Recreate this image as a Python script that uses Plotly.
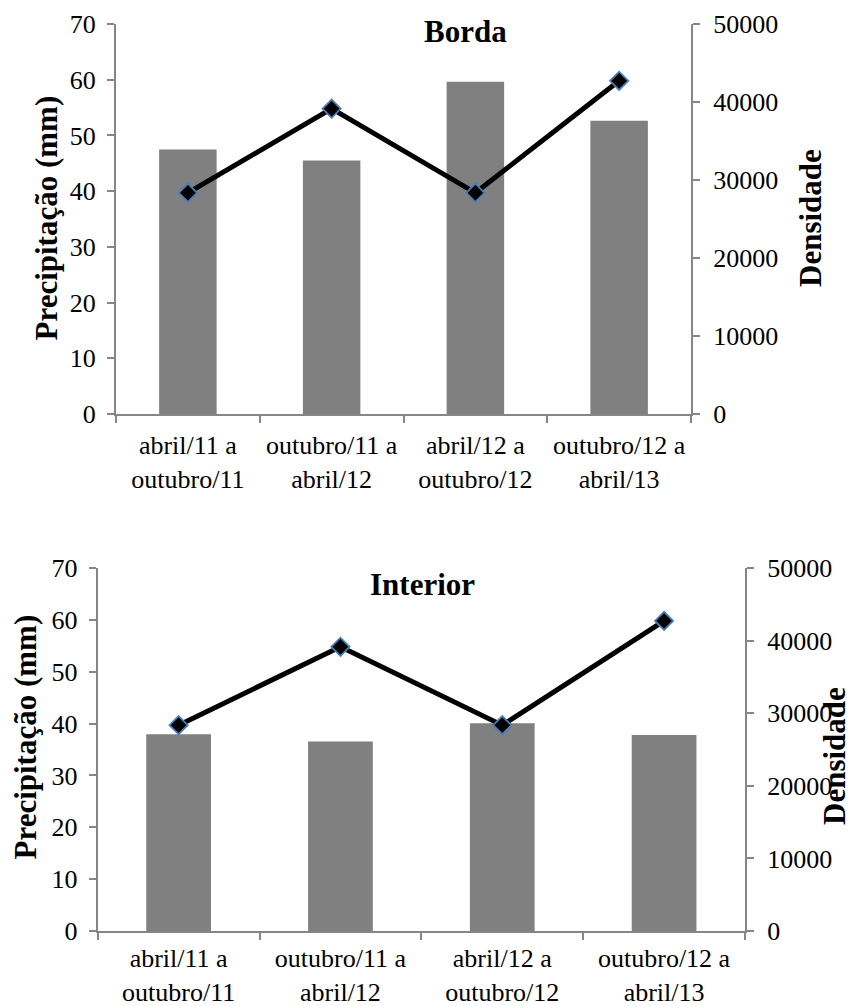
import plotly.graph_objects as go

# ---- data ----
categorias = ["abril/11 a<br>outubro/11", "outubro/11 a<br>abril/12",
              "abril/12 a<br>outubro/12", "outubro/12 a<br>abril/13"]
precipitacao = [39.7, 54.8, 39.7, 59.8]
densidade_borda = [33900, 32500, 42600, 37600]
densidade_interior = [27100, 26100, 28600, 27000]
titulos = ["Borda", "Interior"]
titulo_y_esq = "Precipitação (mm)"
titulo_y_dir = "Densidade"

W, H = 852, 1006
FONT = "Liberation Serif, Times New Roman, serif"
AXC = "#868686"
BAR = "#808080"

def px(x): return x / W
def py(y): return 1 - y / H

fig = go.Figure()

line_style = dict(color="black", width=5)
marker_style = dict(symbol="diamond", size=14, color="black",
                    line=dict(color="#4a7ebb", width=1.8))

# top panel: bars on y (right), line on y2 (left, overlay)
fig.add_trace(go.Bar(x=categorias, y=densidade_borda, marker=dict(color=BAR, line=dict(width=0)),
                     width=0.4, xaxis="x", yaxis="y", showlegend=False))
fig.add_trace(go.Scatter(x=categorias, y=precipitacao, mode="lines+markers",
                         line=line_style, marker=marker_style,
                         xaxis="x", yaxis="y2", showlegend=False))
# bottom panel
fig.add_trace(go.Bar(x=categorias, y=densidade_interior, marker=dict(color=BAR, line=dict(width=0)),
                     width=0.4, xaxis="x2", yaxis="y3", showlegend=False))
fig.add_trace(go.Scatter(x=categorias, y=precipitacao, mode="lines+markers",
                         line=line_style, marker=marker_style,
                         xaxis="x2", yaxis="y4", showlegend=False))

tickfont = dict(family=FONT, size=26, color="black")
common = dict(showline=True, linecolor=AXC, linewidth=2, ticks="outside", ticklen=7,
              tickwidth=2, tickcolor=AXC, showgrid=False, zeroline=False, tickfont=tickfont,
              automargin=False)

def xax(domain, anchor, standoff):
    return dict(domain=domain, anchor=anchor, type="category", range=[-0.5, 3.5],
                tickson="boundaries", ticklabelstandoff=standoff, **common)

def ybar(domain, anchor):
    return dict(domain=domain, anchor=anchor, side="right", range=[0, 50000], dtick=10000,
                tickformat="d", ticklabelstandoff=8, **common)

def yline(over, anchor):
    return dict(overlaying=over, anchor=anchor, side="left", range=[0, 70], dtick=10,
                ticklabelstandoff=6, **common)

top_x = [px(116), px(691)]
top_y = [py(414), py(24)]
bot_x = [px(97.7), px(745)]
bot_y = [py(931), py(568)]

fig.update_layout(
    width=W, height=H, margin=dict(l=0, r=0, t=0, b=0, autoexpand=False),
    paper_bgcolor="white", plot_bgcolor="white",
    xaxis=xax(top_x, "y", 7), yaxis=ybar(top_y, "x"), yaxis2=yline("y", "x"),
    xaxis2=xax(bot_x, "y3", 3), yaxis3=ybar(bot_y, "x2"), yaxis4=yline("y3", "x2"),
    bargap=0.6,
)

bold = lambda s: "<b>" + s + "</b>"
tf = dict(family=FONT, size=31, color="black")
ann = [
    dict(text=bold(titulos[0]), x=px(465), y=py(31)),
    dict(text=bold(titulos[1]), x=px(422.5), y=py(584)),
    dict(text=bold(titulo_y_esq), x=px(45.5), y=py(218), textangle=-90),
    dict(text=bold(titulo_y_dir), x=px(810), y=py(218), textangle=-90),
    dict(text=bold(titulo_y_esq), x=px(24.5), y=py(737), textangle=-90),
    dict(text=bold(titulo_y_dir), x=px(834), y=py(756), textangle=-90),
]
for a in ann:
    fig.add_annotation(xref="paper", yref="paper", xanchor="center", yanchor="middle",
                       showarrow=False, font=tf, **a)

fig.write_html("out.html")
